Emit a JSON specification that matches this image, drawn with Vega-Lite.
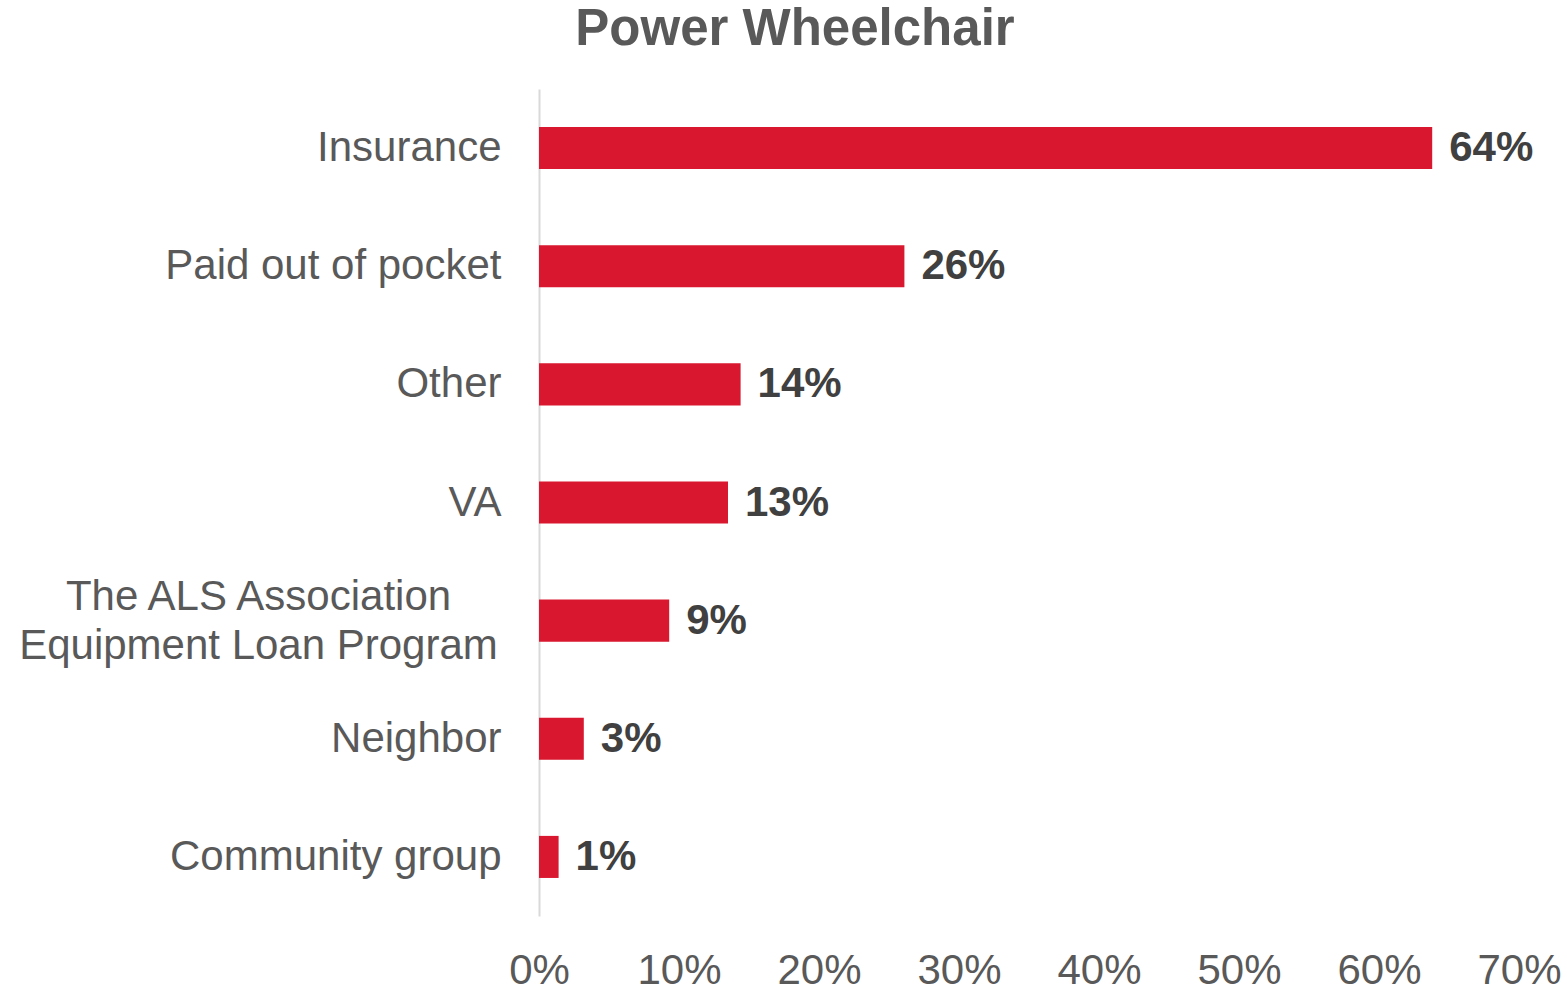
{
  "$schema": "https://vega.github.io/schema/vega-lite/v6.json",
  "autosize": {"type": "none"},
  "width": 980,
  "height": 827,
  "padding": {"left": 539, "top": 89, "right": 48, "bottom": 72},
  "background": "white",
  "title": {
    "text": "Power Wheelchair",
    "font": "Liberation Sans",
    "fontSize": 51,
    "fontWeight": "bold",
    "color": "#595959",
    "anchor": "middle",
    "dx": -234,
    "offset": 33
  },
  "data": {
    "values": [
      {"source": "Insurance", "value": 0.638, "label": "64%"},
      {"source": "Paid out of pocket", "value": 0.261, "label": "26%"},
      {"source": "Other", "value": 0.144, "label": "14%"},
      {"source": "VA", "value": 0.135, "label": "13%"},
      {"source": "The ALS Association Equipment Loan Program", "value": 0.093, "label": "9%"},
      {"source": "Neighbor", "value": 0.032, "label": "3%"},
      {"source": "Community group", "value": 0.014, "label": "1%"}
    ]
  },
  "encoding": {
    "y": {
      "field": "source",
      "type": "nominal",
      "sort": null,
      "scale": {"paddingInner": 0.644, "paddingOuter": 0.322},
      "axis": {
        "title": null,
        "domain": true,
        "domainColor": "#d9d9d9",
        "domainWidth": 2,
        "ticks": false,
        "labelFont": "Liberation Sans",
        "labelFontSize": 42,
        "labelColor": "#595959",
        "labelPadding": {"condition": {"test": "datum.value == 'The ALS Association Equipment Loan Program'", "value": 281}, "value": 38},
        "labelAlign": {"condition": {"test": "datum.value == 'The ALS Association Equipment Loan Program'", "value": "center"}, "value": "right"},
        "labelOffset": {"condition": {"test": "datum.value == 'The ALS Association Equipment Loan Program'", "value": -24}, "value": 0},
        "labelLimit": 0,
        "labelLineHeight": 49,
        "labelExpr": "datum.label == 'The ALS Association Equipment Loan Program' ? ['The ALS Association', 'Equipment Loan Program'] : datum.label"
      }
    },
    "x": {
      "field": "value",
      "type": "quantitative",
      "scale": {"domain": [0, 0.7], "nice": false},
      "axis": {
        "title": null,
        "domain": false,
        "ticks": false,
        "grid": false,
        "values": [0, 0.1, 0.2, 0.3, 0.4, 0.5, 0.6, 0.7],
        "format": ".0%",
        "labelFont": "Liberation Sans",
        "labelFontSize": 42,
        "labelColor": "#595959",
        "labelPadding": 34,
        "labelFlush": false,
        "labelOverlap": false
      }
    }
  },
  "layer": [
    {
      "mark": {"type": "bar", "color": "#D9172E"}
    },
    {
      "mark": {
        "type": "text",
        "align": "left",
        "baseline": "middle",
        "dx": 17,
        "font": "Liberation Sans",
        "fontSize": 42,
        "fontWeight": "bold",
        "color": "#404040"
      },
      "encoding": {"text": {"field": "label"}}
    }
  ],
  "config": {"view": {"stroke": null}}
}
